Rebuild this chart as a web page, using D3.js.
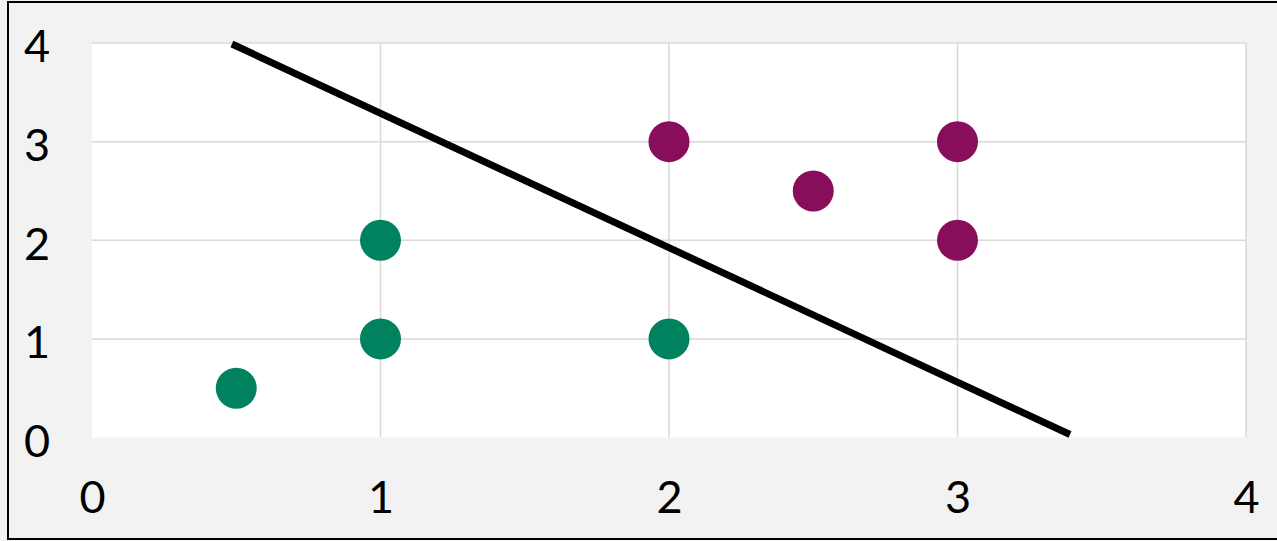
<!DOCTYPE html>
<html><head><meta charset="utf-8">
<script src="https://cdn.jsdelivr.net/npm/d3@7"></script>
<style>body{margin:0;background:#fff}svg{display:block}</style>
</head><body><svg id="c" width="1277" height="541"></svg>
<script>
const xTicks = [0, 1, 2, 3, 4];
const yTicks = [0, 1, 2, 3, 4];
const classAX = [0.5, 1, 1, 2];
const classAY = [0.5, 1, 2, 1];
const classBX = [2, 2.5, 3, 3];
const classBY = [3, 2.5, 3, 2];
const lineX = [0.485, 3.39];
const lineY = [3.99, 0.03];

const svg = d3.select("#c");
const W = 1277, H = 541;
const m = {left: 92, right: 1246, top: 43, bottom: 437.5};
svg.append("rect").attr("x", 0).attr("y", 0).attr("width", W).attr("height", H).attr("fill", "#f2f2f2");
svg.append("rect").attr("x", m.left).attr("y", m.top).attr("width", m.right - m.left).attr("height", m.bottom - m.top).attr("fill", "#ffffff");

const x = d3.scaleLinear().domain([0, 4]).range([m.left, m.right]);
const y = d3.scaleLinear().domain([0, 4]).range([m.bottom, m.top]);

const grid = svg.append("g").attr("stroke", "#d9d9d9").attr("stroke-width", 1.5);
xTicks.filter(d => d > 0).forEach(t => grid.append("line").attr("x1", x(t)).attr("x2", x(t)).attr("y1", m.top).attr("y2", m.bottom));
yTicks.filter(d => d > 0).forEach(t => grid.append("line").attr("y1", y(t)).attr("y2", y(t)).attr("x1", m.left).attr("x2", m.right));

const font = "Lato, 'Open Sans', sans-serif";
const xa = svg.append("g").attr("transform", `translate(0,${m.bottom})`)
  .call(d3.axisBottom(x).tickValues(xTicks).tickSize(0).tickPadding(0).tickFormat(d3.format("d")));
xa.select(".domain").remove();
xa.selectAll("text").attr("font-family", font).attr("font-size", 45).attr("fill", "#000").attr("dy", null).attr("y", 75);

const ya = svg.append("g").attr("transform", `translate(50,0)`)
  .call(d3.axisLeft(y).tickValues(yTicks).tickSize(0).tickPadding(0).tickFormat(d3.format("d")));
ya.select(".domain").remove();
ya.selectAll("text").attr("font-family", font).attr("font-size", 45).attr("fill", "#000").attr("dy", "0.42em");

const lineData = lineX.map((v, i) => [v, lineY[i]]);
svg.append("path").datum(lineData)
  .attr("d", d3.line().x(d => x(d[0])).y(d => y(d[1])))
  .attr("stroke", "#000").attr("stroke-width", 7).attr("fill", "none");

const A = classAX.map((v, i) => [v, classAY[i]]);
const B = classBX.map((v, i) => [v, classBY[i]]);
svg.append("g").selectAll("circle").data(A).join("circle")
  .attr("cx", d => x(d[0])).attr("cy", d => y(d[1])).attr("r", 20.5).attr("fill", "#00825f");
svg.append("g").selectAll("circle").data(B).join("circle")
  .attr("cx", d => x(d[0])).attr("cy", d => y(d[1])).attr("r", 20.5).attr("fill", "#880e5c");

// frame (left, top, bottom)
svg.append("path").attr("d", `M${W},2 H8 V539 H${W}`).attr("stroke", "#000").attr("stroke-width", 2).attr("fill", "none");
</script></body></html>
